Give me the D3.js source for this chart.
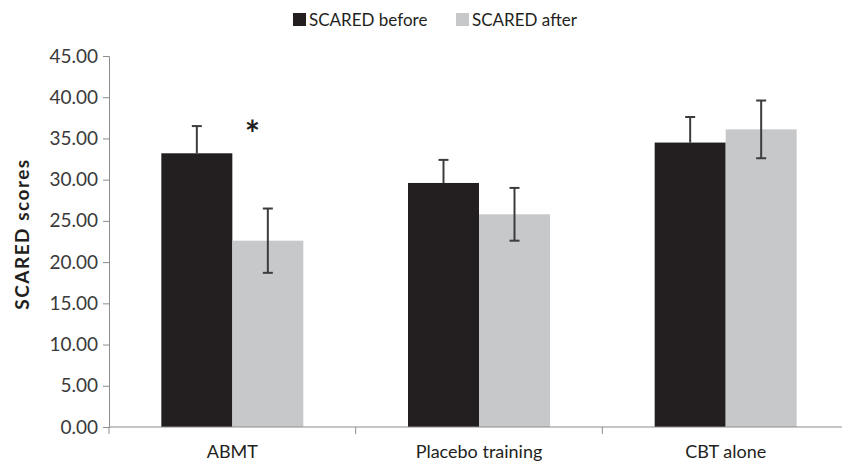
<!DOCTYPE html>
<html>
<head>
<meta charset="utf-8">
<script src="https://cdn.jsdelivr.net/npm/d3@7"></script>
<style>
  body { margin: 0; background: white; }
  svg { display: block; font-family: Lato, "Open Sans", sans-serif; }
</style>
</head>
<body>
<div id="chart"></div>
<script>
var groups = ["ABMT", "Placebo training", "CBT alone"];
var seriesNames = ["SCARED before", "SCARED after"];
var beforeValues = [33.2, 29.6, 34.5];
var afterValues = [22.6, 25.8, 36.1];
var beforeErrors = [3.3, 2.8, 3.1];
var afterErrors = [3.9, 3.2, 3.5];
var yTicks = [0, 5, 10, 15, 20, 25, 30, 35, 40, 45];

var width = 842, height = 468;
var seriesColors = ["#231f20", "#c7c8ca"];

var svg = d3.select("#chart").append("svg")
    .attr("width", width)
    .attr("height", height)

var x = d3.scaleBand().domain(groups).range([109, 849]).paddingInner(0).paddingOuter(0)
var barWidth = 71;
var y = d3.scaleLinear().domain([0, 45]).range([427, 56])

// y axis
var yAxis = svg.append("g")
    .attr("transform", "translate(109,0)")
    .call(d3.axisLeft(y).tickValues(yTicks).tickFormat(d3.format(".2f")).tickSize(6).tickPadding(5))
yAxis.selectAll("path, line").attr("stroke", "#8c8c8c")
yAxis.selectAll("text").attr("fill", "#3a3a3a").style("font-size", "19px").style("font-family", "Lato, sans-serif")

svg.append("text")
    .attr("transform", "translate(29,234) rotate(-90)")
    .attr("text-anchor", "middle")
    .style("font-size", "19px")
    .style("font-weight", "bold")
    .style("letter-spacing", "1.5px")
    .attr("fill", "#231f20")
    .text("SCARED scores")

var rows = groups.map(function(g, i) {
  return { group: g, values: [beforeValues[i], afterValues[i]], errors: [beforeErrors[i], afterErrors[i]] }
})

var bars = svg.selectAll(".grp")
    .data(rows)
    .enter()
    .append("g")
    .attr("class", "grp")
    .attr("transform", d => "translate(" + (x(d.group) + x.bandwidth() / 2) + ",0)")

// bars
bars.selectAll("rect")
    .data(d => d.values)
    .enter()
    .append("rect")
    .attr("x", (d, i) => i === 0 ? -barWidth : 0)
    .attr("y", d => y(d))
    .attr("width", barWidth)
    .attr("height", d => y(0) - y(d))
    .attr("fill", (d, i) => seriesColors[i])

// error bars
var errs = bars.selectAll(".err")
    .data(d => d.values.map((v, i) => ({ v: v, e: d.errors[i], i: i })))
    .enter()
    .append("g")
    .attr("class", "err")
    .attr("transform", d => "translate(" + (d.i === 0 ? -barWidth / 2 : barWidth / 2) + ",0)")

errs.append("line")
    .attr("x1", 0).attr("x2", 0)
    .attr("y1", d => d.i === 0 ? y(d.v) : y(d.v - d.e))
    .attr("y2", d => y(d.v + d.e))
    .attr("stroke", "#3c3c3c")
    .attr("stroke-width", 2)

errs.append("line")
    .attr("x1", -5).attr("x2", 5)
    .attr("y1", d => y(d.v + d.e))
    .attr("y2", d => y(d.v + d.e))
    .attr("stroke", "#3c3c3c")
    .attr("stroke-width", 2)

errs.filter(d => d.i === 1).append("line")
    .attr("x1", -5).attr("x2", 5)
    .attr("y1", d => y(d.v - d.e))
    .attr("y2", d => y(d.v - d.e))
    .attr("stroke", "#3c3c3c")
    .attr("stroke-width", 2)

// significance star
svg.append("text")
    .attr("x", x("ABMT") + x.bandwidth() / 2 + 20)
    .attr("y", 147)
    .attr("text-anchor", "middle")
    .style("font-size", "36px")
    .style("font-weight", "bold")
    .attr("fill", "#231f20")
    .text("*")

// x axis
var xAxis = svg.append("g")
    .attr("transform", "translate(0," + y(0) + ")")
    .call(d3.axisBottom(x).tickSize(0).tickPadding(18))
xAxis.select(".domain").attr("stroke", "#8c8c8c").attr("d", "M109,0H849")
xAxis.selectAll("text").attr("fill", "#231f20").style("font-size", "18px").style("font-family", "Lato, sans-serif")
xAxis.selectAll(".sep")
    .data(groups)
    .enter()
    .append("line")
    .attr("class", "sep")
    .attr("x1", d => x(d)).attr("x2", d => x(d))
    .attr("y1", 0).attr("y2", 7)
    .attr("stroke", "#8c8c8c")

// legend
var legend = svg.append("g").attr("transform", "translate(293,12)")
var legendItems = legend.selectAll("g")
    .data(seriesNames)
    .enter()
    .append("g")
    .attr("transform", (d, i) => "translate(" + (i * 163) + ",0)")
legendItems.append("rect")
    .attr("width", 13).attr("height", 13)
    .attr("y", 1)
    .attr("fill", (d, i) => seriesColors[i])
legendItems.append("text")
    .attr("x", 16)
    .attr("y", 14)
    .style("font-size", "17px")
    .attr("fill", "#231f20")
    .text(d => d)
</script>
</body>
</html>
